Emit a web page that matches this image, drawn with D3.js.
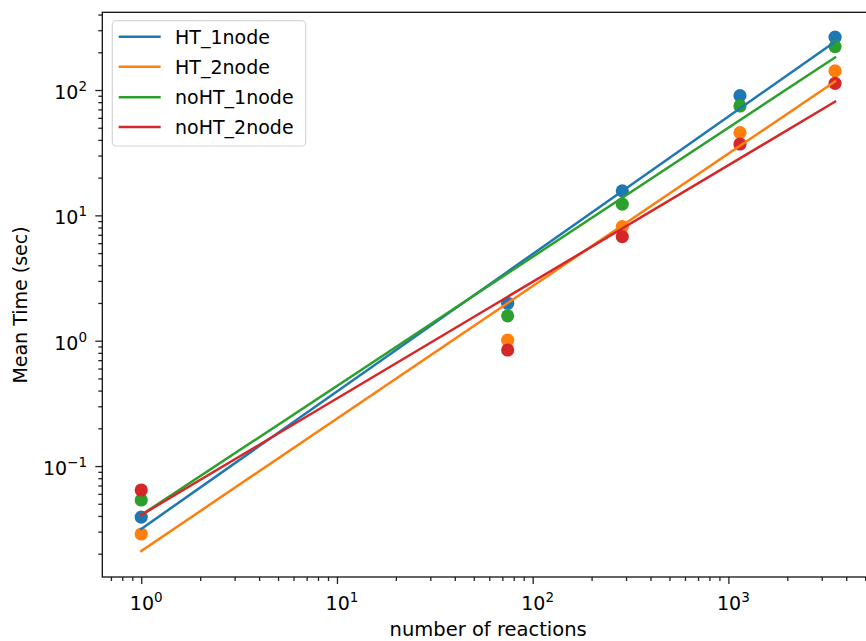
<!DOCTYPE html>
<html>
<head>
<meta charset="utf-8">
<script src="https://cdn.jsdelivr.net/npm/d3@7"></script>
<style>
  html, body { margin: 0; padding: 0; background: #fff; }
  svg { display: block; }
  text { font-family: "DejaVu Sans", sans-serif; fill: #000; }
</style>
</head>
<body>
<svg id="chart" width="866" height="641"></svg>
<script>
// ---- data ----
const reactions = [1, 74.5, 287, 1146, 3508];
const seriesNames = ["HT_1node", "HT_2node", "noHT_1node", "noHT_2node"];
const HT_1node   = [0.0392, 1.99, 15.7, 90.2, 264];
const HT_2node   = [0.0287, 1.01, 8.12, 45.7, 142];
const noHT_1node = [0.0536, 1.58, 12.3, 74.6, 222];
const noHT_2node = [0.0644, 0.843, 6.76, 37.1, 113];
// fitted power-law lines (values at first and last x)
const fitX = [1, 3508];
const HT_1node_fit   = [0.0315, 243];
const HT_2node_fit   = [0.0210, 117];
const noHT_1node_fit = [0.0407, 182];
const noHT_2node_fit = [0.0407, 80.7];
const xMajorTicks = [1, 10, 100, 1000];
const xTickExps = ["0", "1", "2", "3"];
const yMajorTicks = [0.1, 1, 10, 100];
const yTickExps = ["\u22121", "0", "1", "2"];
const xLabel = "number of reactions";
const yLabel = "Mean Time (sec)";
const colors = ["#1f77b4", "#ff7f0e", "#2ca02c", "#d62728"];

const pointSeries = [HT_1node, HT_2node, noHT_1node, noHT_2node];
const fitSeries = [HT_1node_fit, HT_2node_fit, noHT_1node_fit, noHT_2node_fit];

// ---- layout ----
const pLeft = 102.3, pRight = 874, pTop = 12.3, pBottom = 577;
const svg = d3.select("#chart");

const x = d3.scaleLog().domain([Math.pow(10, -0.199), Math.pow(10, 3.744)]).range([pLeft, pRight]);
const y = d3.scaleLog().domain([Math.pow(10, -1.885), Math.pow(10, 2.620)]).range([pBottom, pTop]);

function minorTicks(scale) {
  const [a, b] = scale.domain();
  const out = [];
  for (let e = Math.floor(Math.log10(a)); e <= Math.ceil(Math.log10(b)); e++) {
    for (let m = 2; m <= 9; m++) {
      const v = m * Math.pow(10, e);
      if (v >= a && v <= b) out.push(v);
    }
  }
  return out;
}

const tickColor = "#222";
// x axis
const gx = svg.append("g").attr("transform", `translate(0,${pBottom})`);
gx.append("g").call(d3.axisBottom(x).tickValues(minorTicks(x)).tickSize(4).tickFormat(""));
gx.append("g").call(d3.axisBottom(x).tickValues(xMajorTicks).tickSize(7).tickFormat(""));
gx.selectAll(".domain").remove();
gx.selectAll("line").attr("stroke", tickColor).attr("stroke-width", 1.3);

// y axis
const gy = svg.append("g").attr("transform", `translate(${pLeft},0)`);
gy.append("g").call(d3.axisLeft(y).tickValues(minorTicks(y)).tickSize(4).tickFormat(""));
gy.append("g").call(d3.axisLeft(y).tickValues(yMajorTicks).tickSize(7).tickFormat(""));
gy.selectAll(".domain").remove();
gy.selectAll("line").attr("stroke", tickColor).attr("stroke-width", 1.3);

// tick labels
const fs = 19;
xMajorTicks.forEach((v, i) => {
  const t = svg.append("text")
    .attr("x", x(v) + 5).attr("y", 610)
    .attr("text-anchor", "middle")
    .style("font-size", fs + "px");
  t.append("tspan").text("10");
  t.append("tspan").attr("dy", -8).style("font-size", "13.5px").text(xTickExps[i]);
});
yMajorTicks.forEach((v, i) => {
  const t = svg.append("text")
    .attr("x", 87).attr("y", y(v) + 9)
    .attr("text-anchor", "end")
    .style("font-size", fs + "px");
  t.append("tspan").text("10");
  t.append("tspan").attr("dy", -8).style("font-size", "13.5px").text(yTickExps[i]);
});

// axis labels
svg.append("text")
  .attr("x", (pLeft + pRight) / 2).attr("y", 635.5)
  .attr("text-anchor", "middle")
  .style("font-size", "19.5px")
  .text(xLabel);
svg.append("text")
  .attr("transform", `translate(27,305) rotate(-90)`)
  .attr("text-anchor", "middle")
  .style("font-size", fs + "px")
  .text(yLabel);

// clip
svg.append("clipPath").attr("id", "clip")
  .append("rect").attr("x", pLeft).attr("y", pTop).attr("width", pRight - pLeft).attr("height", pBottom - pTop);
const plot = svg.append("g").attr("clip-path", "url(#clip)");

// scatter points (drawn beneath lines)
pointSeries.forEach((vals, si) => {
  plot.append("g").selectAll("circle")
    .data(vals.map((v, i) => [reactions[i], v]))
    .join("circle")
    .attr("cx", d => x(d[0]))
    .attr("cy", d => y(d[1]))
    .attr("r", 6.6)
    .attr("fill", colors[si]);
});

// fit lines
const line = d3.line().x(d => x(d[0])).y(d => y(d[1]));
fitSeries.forEach((vals, si) => {
  plot.append("path")
    .datum(vals.map((v, i) => [fitX[i], v]))
    .attr("d", line)
    .attr("fill", "none")
    .attr("stroke", colors[si])
    .attr("stroke-width", 2.5)
    .attr("stroke-linecap", "square");
});

// frame
svg.append("rect")
  .attr("x", pLeft).attr("y", pTop)
  .attr("width", pRight - pLeft).attr("height", pBottom - pTop)
  .attr("fill", "none").attr("stroke", "#111").attr("stroke-width", 1.3);

// legend
const lg = svg.append("g");
lg.append("rect")
  .attr("x", 112.3).attr("y", 20.7).attr("width", 193.4).attr("height", 125.3)
  .attr("rx", 4).attr("ry", 4)
  .attr("fill", "#fff").attr("fill-opacity", 0.8)
  .attr("stroke", "#d5d5d5").attr("stroke-width", 1.2);
const rowY = [36.7, 66.7, 97.2, 127];
seriesNames.forEach((name, i) => {
  lg.append("line")
    .attr("x1", 118.7).attr("x2", 160.7)
    .attr("y1", rowY[i]).attr("y2", rowY[i])
    .attr("stroke", colors[i]).attr("stroke-width", 2.5);
  lg.append("text")
    .attr("x", 175).attr("y", rowY[i] + 7)
    .style("font-size", fs + "px")
    .text(name);
});
</script>
</body>
</html>
